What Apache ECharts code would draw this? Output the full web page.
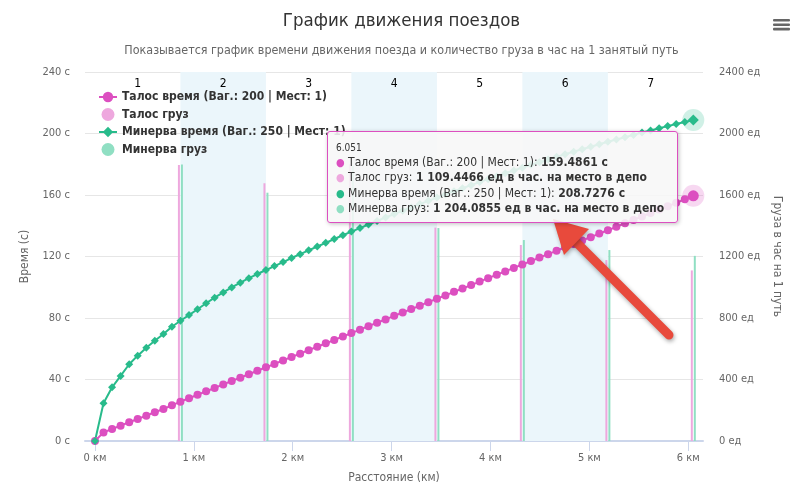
<!DOCTYPE html>
<html><head><meta charset="utf-8">
<script src="https://cdn.jsdelivr.net/npm/echarts@6/dist/echarts.min.js"></script>
<style>html,body{margin:0;padding:0;background:#fff}#c{width:803px;height:483px;position:relative}</style>
</head><body><div id="c"></div>
<script>
// ---- data ----
var titleText = 'График движения поездов';
var subtitleText = 'Показывается график времени движения поезда и количество груза в час на 1 занятый путь';
var seriesNames = ['Талос время (Ваг.: 200 | Мест: 1)', 'Талос груз', 'Минерва время (Ваг.: 250 | Мест: 1)', 'Минерва груз'];
var distanceKm = [0,0.086,0.173,0.259,0.346,0.432,0.519,0.605,0.692,0.778,0.864,0.951,1.037,1.124,1.210,1.297,1.383,1.470,1.556,1.642,1.729,1.815,1.902,1.988,2.075,2.161,2.248,2.334,2.420,2.507,2.593,2.680,2.766,2.853,2.939,3.026,3.112,3.198,3.285,3.371,3.458,3.544,3.631,3.717,3.804,3.890,3.976,4.063,4.149,4.236,4.322,4.409,4.495,4.582,4.668,4.754,4.841,4.927,5.014,5.100,5.187,5.273,5.360,5.446,5.532,5.619,5.705,5.792,5.878,5.965,6.051];
var talosTime = [0,5.6,7.8,10.0,12.2,14.3,16.5,18.7,20.8,23.2,25.6,27.8,30.1,32.3,34.5,36.8,39.0,41.2,43.4,45.7,47.9,50.1,52.4,54.6,56.8,59.1,61.3,63.5,65.7,68.0,70.2,72.4,74.7,76.9,79.1,81.4,83.6,85.8,88.0,90.3,92.5,94.7,97.0,99.2,101.4,103.7,105.9,108.1,110.3,112.6,114.8,117.0,119.3,121.5,123.7,126.0,128.2,130.4,132.6,134.9,137.1,139.3,141.6,143.8,146.0,148.3,150.5,152.7,154.9,157.2,159.4861];
var minervaTime = [0,24.5,34.9,42.3,49.9,55.5,60.7,65.2,69.6,74.3,78.2,81.9,85.7,89.6,93.2,96.6,99.9,103.0,105.9,108.6,111.2,113.8,116.4,119.0,121.5,124.0,126.5,128.9,131.4,133.8,136.2,138.5,140.8,143.1,145.4,147.6,149.8,151.9,154.1,156.2,158.3,160.4,162.4,164.4,166.4,168.4,170.3,172.2,174.1,175.9,177.8,179.6,181.3,183.1,184.8,186.5,188.2,189.8,191.4,193.0,194.6,196.1,197.6,199.1,200.6,202.0,203.4,204.8,206.2,207.5,208.7276];
var stationKm = [0.864,1.729,2.593,3.458,4.322,5.187,6.051];
var talosCargo = [1795,1676,1800,1388,1275,1177,1109.4466];
var minervaCargo = [1798,1615,1790,1385,1307,1242,1204.0855];
var bandLabels = ['1','2','3','4','5','6','7'];
var xTicks = [0,1,2,3,4,5,6];
var unitTime = 'с', unitCargo = 'ед', unitKm = 'км';
var cargoSuffix = 'ед в час. на место в депо';

// ---- styles ----
var C = {talos:'#dc4fc0', talosLight:'#eea8de', minerva:'#28bb8b', minervaLight:'#90dfc3', band:'#ebf6fb'};
var FONT = "'DejaVu Sans Condensed', 'DejaVu Sans'";

function pair(xs, ys){ return xs.map(function(x,i){ return [x, ys[i]]; }); }
function fmtNum(v, dec){
  var s = v.toFixed(dec).split('.');
  var i = s[0].replace(/\B(?=(\d{3})+(?!\d))/g, ' ');
  return s[1] ? i + '.' + s[1] : i;
}
var last = distanceKm.length - 1;
var bandEdges = [0].concat(stationKm);
var bands = bandLabels.map(function(lbl, i){
  return [{xAxis: bandEdges[i], name: lbl, itemStyle:{color: i % 2 === 1 ? C.band : 'rgba(0,0,0,0)'}}, {xAxis: bandEdges[i+1]}];
});
function lineData(xs, ys, bigSize){
  return xs.map(function(x,i){
    var d = {value:[x, ys[i]]};
    if (i === xs.length - 1) d.symbolSize = bigSize;
    return d;
  });
}

var chart = echarts.init(document.getElementById('c'), null, {renderer:'canvas'});
var option = {
  animation: false,
  textStyle: {fontFamily: FONT},
  title: {
    text: titleText, subtext: subtitleText, left: 'center', top: 7, itemGap: 14,
    textStyle: {fontSize: 18.5, fontWeight: 'normal', color: '#333', fontFamily: FONT},
    subtextStyle: {fontSize: 12.4, color: '#666', fontFamily: FONT}
  },
  legend: {
    orient: 'vertical', left: 93, top: 86, itemGap: 5, itemWidth: 18, itemHeight: 13,
    textStyle: {fontSize: 12, fontWeight: 'bold', color: '#333', fontFamily: FONT},
    data: [
      {name: seriesNames[0]},
      {name: seriesNames[1], icon: 'circle'},
      {name: seriesNames[2]},
      {name: seriesNames[3], icon: 'circle'}
    ]
  },
  grid: {left: 85, right: 100, top: 72, bottom: 42, containLabel: false, outerBoundsMode: 'none'},
  tooltip: {
    trigger: 'item', triggerOn: 'none', alwaysShowContent: true, transitionDuration: 0,
    backgroundColor: 'rgba(247,247,247,0.88)', borderColor: C.talos, borderWidth: 1, padding: [10, 13, 6, 8],
    textStyle: {fontFamily: FONT, fontSize: 12, color: '#333'},
    extraCssText: 'box-shadow:1px 1px 4px rgba(0,0,0,0.25);border-radius:3px;line-height:15.3px;white-space:nowrap;',
    position: function(){ return [327, 131]; },
    formatter: function(){
      var dot = function(c){ return '<span style="color:'+c+';font-size:11px;line-height:15.3px">\u25CF</span> '; };
      return '<div style="font-size:10px;line-height:12px;margin-bottom:1px">' + distanceKm[last].toFixed(3) + '</div>' +
        dot(C.talos) + seriesNames[0] + ': <b>' + fmtNum(talosTime[last],4) + ' ' + unitTime + '</b><br>' +
        dot(C.talosLight) + seriesNames[1] + ': <b>' + fmtNum(talosCargo[talosCargo.length-1],4) + ' ' + cargoSuffix + '</b><br>' +
        dot(C.minerva) + seriesNames[2] + ': <b>' + fmtNum(minervaTime[last],4) + ' ' + unitTime + '</b><br>' +
        dot(C.minervaLight) + seriesNames[3] + ': <b>' + fmtNum(minervaCargo[minervaCargo.length-1],4) + ' ' + cargoSuffix + '</b>';
    }
  },
  xAxis: {
    type: 'value', min: -0.101, max: 6.149,
    name: 'Расстояние (' + unitKm + ')', nameLocation: 'middle', nameGap: 31,
    nameTextStyle: {color: '#666', fontSize: 12},
    axisLine: {show: true, onZero: false, lineStyle: {color: '#ccd6eb', width: 2}},
    axisTick: {show: true, length: 10, lineStyle: {color: '#ccd6eb'}, customValues: xTicks},
    axisLabel: {color: '#666', fontSize: 11, margin: 12, customValues: xTicks,
      formatter: function(v){ return v + ' ' + unitKm; }},
    splitLine: {show: false}
  },
  yAxis: [
    {type: 'value', min: 0, max: 240, interval: 40,
     name: 'Время (' + unitTime + ')', nameLocation: 'middle', nameGap: 54,
     nameTextStyle: {color: '#666', fontSize: 12},
     axisLine: {show: false}, axisTick: {show: false},
     axisLabel: {color: '#666', fontSize: 11, margin: 15, formatter: function(v){ return v + ' ' + unitTime; }},
     splitLine: {lineStyle: {color: '#e6e6e6'}}},
    {type: 'value', min: 0, max: 2400, interval: 400, position: 'right',
     name: 'Груза в час на 1 путь', nameLocation: 'middle', nameGap: 62, nameRotate: -90,
     nameTextStyle: {color: '#666', fontSize: 12},
     axisLine: {show: false}, axisTick: {show: false},
     axisLabel: {color: '#666', fontSize: 11, margin: 16, formatter: function(v){ return v + ' ' + unitCargo; }},
     splitLine: {show: false}}
  ],
  series: [
    {name: seriesNames[1], type: 'bar', yAxisIndex: 1, barWidth: 2, barGap: '50%',
     itemStyle: {color: C.talosLight}, data: pair(stationKm, talosCargo), z: 1,
     markArea: {silent: true, label: {show: true, position: 'insideTop', distance: 6, color: '#000', fontSize: 12, fontFamily: FONT},
       data: bands}},
    {name: seriesNames[3], type: 'bar', yAxisIndex: 1, barWidth: 2, barGap: '50%',
     itemStyle: {color: C.minervaLight}, data: pair(stationKm, minervaCargo), z: 1},
    {name: 'halo1', type: 'scatter', symbolSize: 22, silent: true, z: 2,
     itemStyle: {color: C.talos, opacity: 0.22}, data: [[distanceKm[last], talosTime[last]]]},
    {name: 'halo2', type: 'scatter', symbolSize: 22, silent: true, z: 2,
     itemStyle: {color: C.minerva, opacity: 0.22}, data: [[distanceKm[last], minervaTime[last]]]},
    {name: seriesNames[0], type: 'line', symbol: 'circle', symbolSize: 8, z: 3,
     lineStyle: {color: C.talos, width: 2}, itemStyle: {color: C.talos},
     data: lineData(distanceKm, talosTime, 11)},
    {name: seriesNames[2], type: 'line', symbol: 'diamond', symbolSize: 8, z: 3,
     lineStyle: {color: C.minerva, width: 2}, itemStyle: {color: C.minerva},
     data: lineData(distanceKm, minervaTime, 11)}
  ],
  graphic: [
    {type: 'rect', shape: {x: 773, y: 19, width: 17, height: 2.6, r: 1}, style: {fill: '#666'}},
    {type: 'rect', shape: {x: 773, y: 23.4, width: 17, height: 2.6, r: 1}, style: {fill: '#666'}},
    {type: 'rect', shape: {x: 773, y: 27.8, width: 17, height: 2.6, r: 1}, style: {fill: '#666'}},
    {type: 'line', z: 100, shape: {x1: 669, y1: 335, x2: 574, y2: 240},
     style: {stroke: '#e84a3c', lineWidth: 9, lineCap: 'round', shadowBlur: 4, shadowColor: 'rgba(0,0,0,0.35)', shadowOffsetX: 1, shadowOffsetY: 2}},
    {type: 'polygon', z: 100, shape: {points: [[553, 219], [589, 229], [564, 255]]},
     style: {fill: '#e84a3c', shadowBlur: 4, shadowColor: 'rgba(0,0,0,0.3)', shadowOffsetX: 1, shadowOffsetY: 2}}
  ]
};
chart.setOption(option);
function tip(){ chart.dispatchAction({type: 'showTip', seriesIndex: 4, dataIndex: last}); }
tip();
setTimeout(tip, 30);
</script>
</body></html>
